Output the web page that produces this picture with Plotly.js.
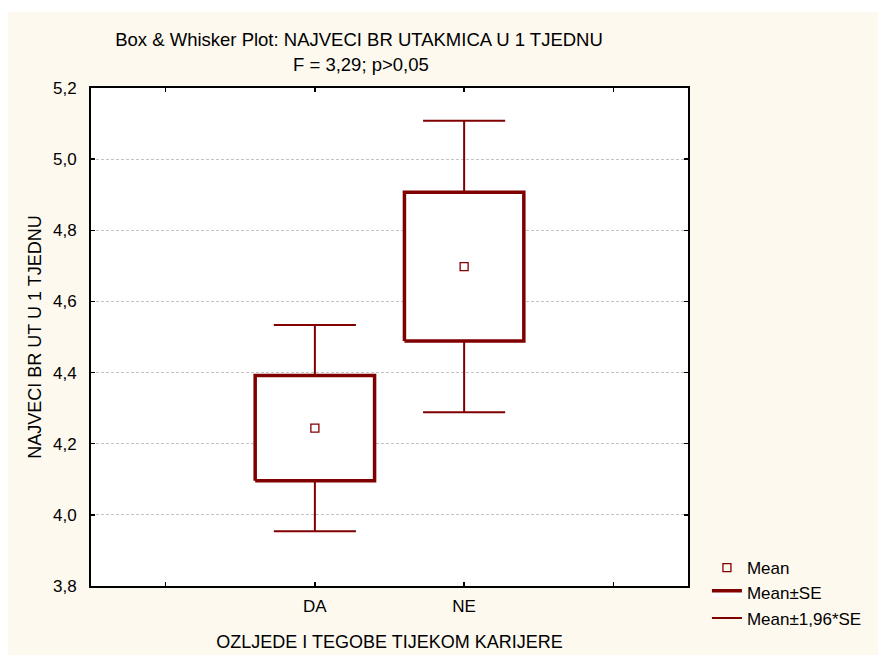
<!DOCTYPE html>
<html>
<head>
<meta charset="utf-8">
<script src="https://cdn.plot.ly/plotly-3.0.1.min.js"></script>
<style>
html,body{margin:0;padding:0;background:#ffffff;}
#chart{position:absolute;left:8px;top:12px;width:870px;height:643px;}
</style>
</head>
<body>
<div id="chart"></div>
<script>
// Data
const categories = ['DA', 'NE'];
const means = [4.244, 4.698];
const se = [0.148, 0.209];
const seMult = 1.96;
const tickPositions = [-1, 0, 1, 2];
const tickLabels = ['', 'DA', 'NE', ''];

const col = '#800000';
const boxHalf = 0.4;
const capHalf = 0.275;

// Build boxes (Mean±SE) and whiskers (Mean±1,96*SE)
const bx = [], by = [];
const wx = [], wy = [];
categories.forEach((c, i) => {
  const lo = means[i] - se[i], hi = means[i] + se[i];
  bx.push(i - boxHalf, i + boxHalf, i + boxHalf, i - boxHalf, i - boxHalf, null);
  by.push(lo, lo, hi, hi, lo, null);
  const wlo = means[i] - seMult * se[i], whi = means[i] + seMult * se[i];
  wx.push(i, i, null, i - capHalf, i + capHalf, null);
  wy.push(hi, whi, null, whi, whi, null);
  wx.push(i, i, null, i - capHalf, i + capHalf, null);
  wy.push(lo, wlo, null, wlo, wlo, null);
});

const traces = [
  {
    type: 'scatter', mode: 'lines', name: 'Mean±SE', legendrank: 2,
    x: bx, y: by, fill: 'toself', fillcolor: '#ffffff',
    line: {color: col, width: 3.5}, hoverinfo: 'skip'
  },
  {
    type: 'scatter', mode: 'lines', name: 'Mean±1,96*SE', legendrank: 3,
    x: wx, y: wy, line: {color: col, width: 2}, hoverinfo: 'skip'
  },
  {
    type: 'scatter', mode: 'markers', name: 'Mean', legendrank: 1,
    x: categories.map((c, i) => i), y: means,
    marker: {symbol: 'square-open', size: 8, color: col, line: {width: 1.3, color: col}},
    hoverinfo: 'skip'
  }
];

const fontFam = 'Liberation Sans, Arial, sans-serif';
const fs = 18;

const layout = {
  width: 870, height: 643,
  paper_bgcolor: '#fdf9ef',
  plot_bgcolor: '#ffffff',
  separators: ',.',
  font: {family: fontFam, size: fs, color: '#000000'},
  margin: {l: 83, r: 189, t: 76, b: 69},
  showlegend: true,
  legend: {
    x: 1.03, xanchor: 'left', y: 0.072, yanchor: 'top',
    bgcolor: 'rgba(0,0,0,0)', font: {family: fontFam, size: fs - 1},
    traceorder: 'normal', tracegroupgap: 0
  },
  title: {
    text: 'Box & Whisker Plot: NAJVECI BR UTAKMICA U 1 TJEDNU',
    x: 351 / 870, xref: 'container', xanchor: 'center',
    y: 1 - 28 / 643, yref: 'container', yanchor: 'middle',
    font: {family: fontFam, size: 18.5}
  },
  annotations: [{
    text: 'F = 3,29; p>0,05', xref: 'paper', yref: 'paper',
    x: (353 - 83) / 598, y: 1 + (76 - 52) / 498,
    xanchor: 'center', yanchor: 'middle', showarrow: false,
    font: {family: fontFam, size: 18.5}
  }],
  xaxis: {
    range: [-1.5, 2.5],
    tickvals: tickPositions, ticktext: tickLabels,
    ticks: 'inside', ticklen: 4, tickwidth: 1.5, tickcolor: '#000',
    ticklabelstandoff: 4,
    showline: true, linecolor: '#000', linewidth: 2, mirror: 'ticks',
    showgrid: false, zeroline: false,
    tickfont: {family: fontFam, size: fs - 1},
    title: {text: 'OZLJEDE I TEGOBE TIJEKOM KARIJERE', standoff: 20, font: {family: fontFam, size: fs}},
    automargin: false
  },
  yaxis: {
    range: [3.8, 5.2], dtick: 0.2, tick0: 3.8, tickformat: '.1f',
    ticks: 'inside', ticklen: 4, tickwidth: 1.5, tickcolor: '#000',
    ticklabelstandoff: 9,
    showline: true, linecolor: '#000', linewidth: 2, mirror: 'ticks',
    showgrid: true, gridcolor: '#c4c4c4', griddash: '3px,2px', gridwidth: 1,
    zeroline: false,
    tickfont: {family: fontFam, size: fs - 1},
    title: {text: 'NAJVECI BR UT U 1 TJEDNU', standoff: 7, font: {family: fontFam, size: fs}},
    automargin: false
  }
};

Plotly.newPlot('chart', traces, layout, {displayModeBar: false, staticPlot: true});
</script>
</body>
</html>
